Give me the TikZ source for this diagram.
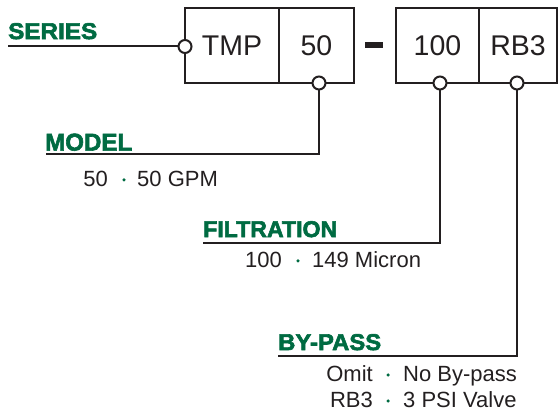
\documentclass[tikz,border=0pt]{standalone}
\usepackage{fontspec}
\setmainfont{Liberation Sans}
\usepackage{graphicx}
\font\heavyfont="Liberation Sans Bold:embolden=2.5" at 20pt
\definecolor{hdgreen}{HTML}{006B42}
\definecolor{ink}{HTML}{231F20}
\tikzset{
  box/.style={draw=ink, line width=2pt, minimum height=75pt, inner sep=0pt, font=\fontsize{28.5}{30}\selectfont, text=ink},
  pin/.style={circle, draw=ink, fill=white, line width=2pt, minimum size=13pt, inner sep=0pt},
  conn/.style={draw=ink, line width=2pt},
  heading/.style={anchor=south west, inner sep=0pt, text=hdgreen},
  bodytxt/.style={inner sep=0pt, text=ink, font=\fontsize{22}{24}\selectfont},
  gdot/.style={circle, fill=hdgreen, minimum size=3.5pt, inner sep=0pt}
}
\newcommand{\hdtext}[3]{\resizebox{#2pt}{#3pt}{\heavyfont #1}}
\begin{document}
\begin{tikzpicture}[x=1pt,y=-1pt]
\useasboundingbox (0,0) rectangle (558,414);
% code boxes
\node[box, minimum width=94pt] (tmp) at (232,45.5) {TMP};
\node[box, minimum width=75pt] (fifty) at (316.5,45.5) {50};
\node[fill=ink, minimum width=18pt, minimum height=6pt, inner sep=0pt] (dash) at (374,45) {};
\node[box, minimum width=83pt] (hundred) at (437.5,45.5) {100};
\node[box, minimum width=78pt] (rbthree) at (518,45.5) {RB3};
% headings
\node[heading] (series) at (8,39.5) {\hdtext{SERIES}{89}{16}};
\node[heading] (model) at (45,151) {\hdtext{MODEL}{87}{17}};
\node[heading] (filtration) at (203,237.5) {\hdtext{FILTRATION}{134}{16}};
\node[heading] (bypass) at (278,350.5) {\hdtext{BY-PASS}{103}{16}};
% line ends
\coordinate (sL) at (8,46.5);
\coordinate (mL) at (46,154);
\coordinate (fL) at (203,243);
\coordinate (bL) at (278,356);
% connectors
\node[pin] (cs) at (185,46.5) {};
\node[pin] (cm) at (319,83) {};
\node[pin] (cf) at (440,83) {};
\node[pin] (cb) at (517,83) {};
\draw[conn] (sL) -- (cs.west);
\draw[conn, line join=miter] (cm.south) |- (mL);
\draw[conn, line join=miter] (cf.south) |- (fL);
\draw[conn, line join=miter] (cb.south) |- (bL);
% option lists
\node[bodytxt, anchor=base east] (m1a) at (108,187) {50};
\node[gdot] (m1d) at (124,180) {};
\node[bodytxt, anchor=base west] (m1b) at (137,187) {50 GPM};
\node[bodytxt, anchor=base east] (f1a) at (282,268) {100};
\node[gdot] (f1d) at (298,261) {};
\node[bodytxt, anchor=base west] (f1b) at (312,268) {149 Micron};
\node[bodytxt, anchor=base east] (b1a) at (373,382) {Omit};
\node[gdot] (b1d) at (388,375) {};
\node[bodytxt, anchor=base west] (b1b) at (403,382) {No By-pass};
\node[bodytxt, anchor=base east] (b2a) at (373,408) {RB3};
\node[gdot] (b2d) at (388,401) {};
\node[bodytxt, anchor=base west] (b2b) at (403,408) {3 PSI Valve};
\end{tikzpicture}
\end{document}
